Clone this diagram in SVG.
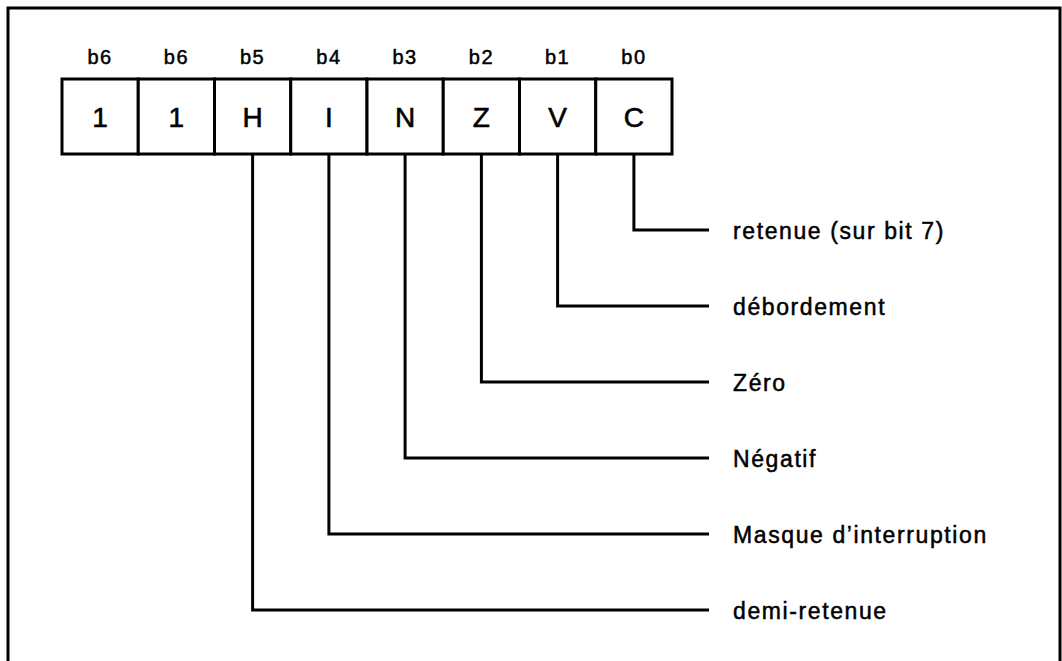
<svg xmlns="http://www.w3.org/2000/svg" width="1062" height="661" viewBox="0 0 1062 661">
<style>
.frame{fill:none;stroke:#000;stroke-width:3}
.box{fill:#fff;stroke:#000;stroke-width:3}
.bit{font-family:"Liberation Sans",Arial,sans-serif;font-size:20px;text-anchor:middle;fill:#000;stroke:#000;stroke-width:0.5;letter-spacing:1.5px}
.val{font-family:"Liberation Sans",Arial,sans-serif;font-size:28px;text-anchor:middle;fill:#000;stroke:#000;stroke-width:0.6}
.lbl{font-family:"Liberation Sans",Arial,sans-serif;font-size:23px;fill:#000;stroke:#000;stroke-width:0.5;letter-spacing:1.6px}
.con{fill:none;stroke:#000;stroke-width:3}
</style>
<rect width="1062" height="661" fill="#fff"/>
<path class="frame" d="M8,665 V8 H1060 V665"/>
<g id="reg-b7"><rect class="box" x="62" y="79" width="76.25" height="75"/><text class="bit" x="100.1" y="64">b6</text><text class="val" x="100.1" y="127">1</text></g>
<g id="reg-b6"><rect class="box" x="138.25" y="79" width="76.25" height="75"/><text class="bit" x="176.4" y="64">b6</text><text class="val" x="176.4" y="127">1</text></g>
<g id="reg-b5"><rect class="box" x="214.5" y="79" width="76.25" height="75"/><text class="bit" x="252.6" y="64">b5</text><text class="val" x="252.6" y="127">H</text></g>
<g id="reg-b4"><rect class="box" x="290.75" y="79" width="76.25" height="75"/><text class="bit" x="328.9" y="64">b4</text><text class="val" x="328.9" y="127">I</text></g>
<g id="reg-b3"><rect class="box" x="367" y="79" width="76.25" height="75"/><text class="bit" x="405.1" y="64">b3</text><text class="val" x="405.1" y="127">N</text></g>
<g id="reg-b2"><rect class="box" x="443.25" y="79" width="76.25" height="75"/><text class="bit" x="481.4" y="64">b2</text><text class="val" x="481.4" y="127">Z</text></g>
<g id="reg-b1"><rect class="box" x="519.5" y="79" width="76.25" height="75"/><text class="bit" x="557.6" y="64">b1</text><text class="val" x="557.6" y="127">V</text></g>
<g id="reg-b0"><rect class="box" x="595.75" y="79" width="76.25" height="75"/><text class="bit" x="633.9" y="64">b0</text><text class="val" x="633.9" y="127">C</text></g>
<g id="connectors">
<path class="con" d="M633.9,155 V230 H709"/>
<path class="con" d="M557.6,155 V306 H709"/>
<path class="con" d="M481.4,155 V382 H709"/>
<path class="con" d="M405.1,155 V458 H709"/>
<path class="con" d="M328.9,155 V534 H709"/>
<path class="con" d="M252.6,155 V610 H709"/>
</g>
<g id="labels">
<text id="lbl-c" class="lbl" x="733" y="239">retenue (sur bit 7)</text>
<text id="lbl-v" class="lbl" x="733" y="315">débordement</text>
<text id="lbl-z" class="lbl" x="733" y="391">Zéro</text>
<text id="lbl-n" class="lbl" x="733" y="467">Négatif</text>
<text id="lbl-i" class="lbl" x="733" y="543">Masque d’interruption</text>
<text id="lbl-h" class="lbl" x="733" y="619">demi-retenue</text>
</g>
</svg>
